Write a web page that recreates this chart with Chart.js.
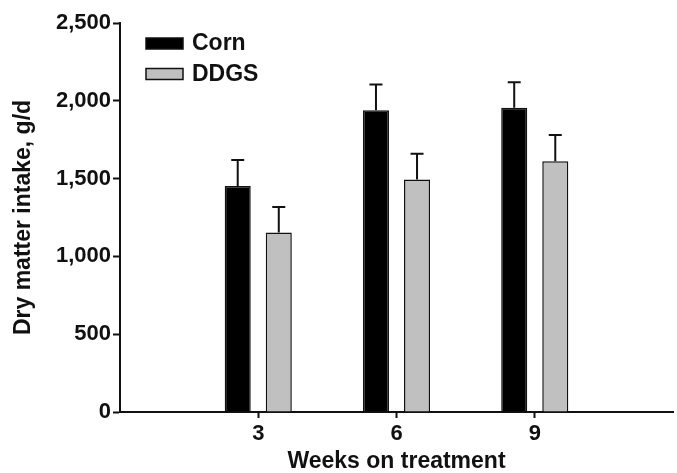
<!DOCTYPE html>
<html>
<head>
<meta charset="utf-8">
<script src="https://cdn.jsdelivr.net/npm/chart.js@4.4.0/dist/chart.umd.min.js"></script>
<style>
  html, body { margin: 0; padding: 0; background: #fff; }
  #wrap { width: 677px; height: 473px; }
</style>
</head>
<body>
<div id="wrap"><canvas id="dmiChart"></canvas></div>
<script>
// weeks on treatment
const weeks = [3, 6, 9];
const cornValues = [1453, 1940, 1955];
const cornErr = [166, 165, 165];
const ddgsValues = [1154, 1494, 1612];
const ddgsErr = [164, 165, 169];
const yTicks = [0, 500, 1000, 1500, 2000, 2500];

const FONT = "'Liberation Sans', Arial, sans-serif";

// error bars on top of each bar (upper only)
const errorBars = {
  id: "errorBars",
  afterDatasetsDraw(chart) {
    const ctx = chart.ctx;
    const y = chart.scales.y;
    chart.data.datasets.forEach(function (ds, i) {
      const meta = chart.getDatasetMeta(i);
      meta.data.forEach(function (bar, j) {
        const top = y.getPixelForValue(ds.data[j].y + ds.err[j]);
        ctx.save();
        ctx.strokeStyle = "#111";
        ctx.lineWidth = 2;
        ctx.beginPath();
        ctx.moveTo(bar.x, bar.y);
        ctx.lineTo(bar.x, top);
        ctx.moveTo(bar.x - 6.5, top);
        ctx.lineTo(bar.x + 6.5, top);
        ctx.stroke();
        ctx.restore();
      });
    });
  }
};

// legend drawn inside plot, upper left
const boxLegend = {
  id: "boxLegend",
  afterDraw(chart) {
    const ctx = chart.ctx;
    const x0 = 146, y0 = 38;
    chart.data.datasets.forEach(function (ds, i) {
      const yy = y0 + i * 30.5;
      ctx.save();
      ctx.fillStyle = ds.backgroundColor;
      ctx.fillRect(x0, yy, 37, 11);
      ctx.strokeStyle = "#111";
      ctx.lineWidth = 1.5;
      ctx.strokeRect(x0, yy, 37, 11);
      ctx.fillStyle = "#111";
      ctx.font = "bold 23px " + FONT;
      ctx.textBaseline = "middle";
      ctx.fillText(ds.label, 192, yy + 6);
      ctx.restore();
    });
  }
};

new Chart(document.getElementById("dmiChart"), {
  type: "bar",
  data: {
    datasets: [
      {
        label: "Corn",
        data: weeks.map((w, i) => ({ x: w, y: cornValues[i] })),
        err: cornErr,
        backgroundColor: "#000000",
        borderColor: "#111",
        borderWidth: 1.5
      },
      {
        label: "DDGS",
        data: weeks.map((w, i) => ({ x: w, y: ddgsValues[i] })),
        err: ddgsErr,
        backgroundColor: "#c0c0c0",
        borderColor: "#111",
        borderWidth: 1.5
      }
    ]
  },
  options: {
    responsive: true,
    maintainAspectRatio: false,
    animation: false,
    categoryPercentage: 0.594,
    barPercentage: 0.634,
    layout: { padding: { top: 23, right: 4, left: 0, bottom: 0 } },
    plugins: {
      legend: { display: false },
      tooltip: { enabled: false }
    },
    scales: {
      x: {
        type: "linear",
        min: 0,
        max: 12,
        offset: false,
        afterBuildTicks(scale) {
          scale.ticks = weeks.map(v => ({ value: v }));
        },
        afterFit(scale) { scale.height = 61; },
        grid: {
          offset: false,
          drawOnChartArea: false,
          drawTicks: true,
          tickLength: 6,
          tickWidth: 2,
          color: "#111"
        },
        border: { display: true, color: "#111", width: 2 },
        ticks: {
          color: "#111",
          padding: 3,
          font: { family: FONT, size: 22, weight: "bold" }
        },
        title: {
          display: true,
          text: "Weeks on treatment",
          color: "#111",
          padding: { top: 0, bottom: 0 },
          font: { family: FONT, size: 23, weight: "bold", lineHeight: 1 }
        }
      },
      y: {
        min: 0,
        max: 2500,
        afterBuildTicks(scale) {
          scale.ticks = yTicks.map(v => ({ value: v }));
        },
        afterFit(scale) { scale.width = 120; },
        grid: {
          drawOnChartArea: false,
          drawTicks: true,
          tickLength: 7,
          tickWidth: 2,
          color: "#111"
        },
        border: { display: true, color: "#111", width: 2 },
        ticks: {
          color: "#111",
          padding: 2,
          font: { family: FONT, size: 22, weight: "bold" },
          callback: v => v.toLocaleString("en-US")
        },
        title: {
          display: true,
          text: "Dry matter intake, g/d",
          color: "#111",
          padding: { top: 12, bottom: 0 },
          font: { family: FONT, size: 23, weight: "bold", lineHeight: 1 }
        }
      }
    }
  },
  plugins: [errorBars, boxLegend]
});
</script>
</body>
</html>
